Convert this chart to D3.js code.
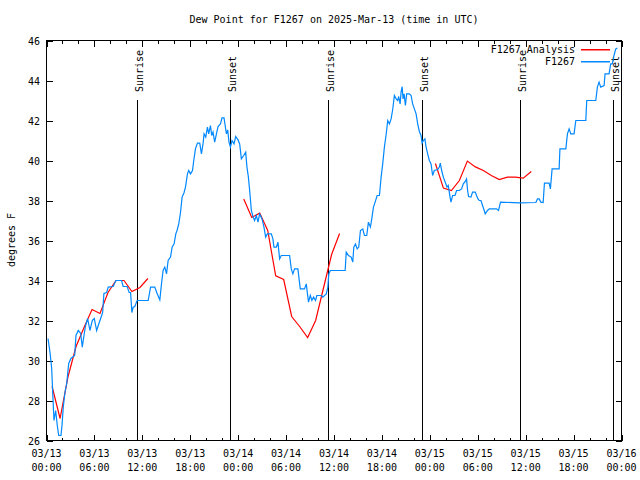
<!DOCTYPE html>
<html>
<head>
<meta charset="utf-8">
<script src="https://cdn.jsdelivr.net/npm/d3@7"></script>
<style>
  body { margin: 0; background: #fff; }
  text { font-family: "DejaVu Sans Mono", monospace; font-size: 10px; fill: #000; }
</style>
</head>
<body>
<div id="chart"></div>
<script>
// hours after 2025-03-13 00:00 UTC
const obsHours = [0.19,0.44,0.65,0.78,0.94,1.15,1.35,1.53,1.81,1.94,2.10,2.31,2.53,2.78,3.06,3.53,3.69,3.98,4.28,4.48,
  4.69,4.90,5.15,5.44,5.73,5.98,6.28,6.48,6.78,7.03,7.19,7.53,7.73,8.35,8.69,9.40,9.60,10.10,10.35,10.53,
  10.69,10.85,11.06,11.35,12.73,13.03,13.56,13.85,14.19,14.40,14.60,14.81,15.03,15.23,15.53,15.73,15.98,16.19,16.35,16.56,
  16.78,16.98,17.23,17.40,17.65,17.81,18.03,18.28,18.44,18.65,18.90,19.19,19.40,19.60,19.73,19.94,20.15,20.31,20.53,20.69,
  20.85,21.06,21.28,21.48,21.78,21.98,22.23,22.40,22.53,22.69,22.85,23.03,23.23,23.48,23.69,23.98,24.19,24.40,24.69,24.94,
  25.10,25.28,25.44,25.65,25.85,26.06,26.28,26.48,26.69,26.98,27.23,27.44,27.65,28.15,28.35,28.48,28.78,28.98,29.19,29.40,
  30.44,30.65,30.85,31.06,31.48,31.60,31.78,32.31,32.53,32.65,32.81,33.03,33.23,33.44,33.69,33.85,34.40,34.60,35.03,35.23,
  35.35,35.53,37.40,37.53,37.81,38.15,38.35,38.48,38.69,38.90,39.10,39.31,39.60,39.81,40.10,40.31,40.56,40.73,40.94,41.15,
  41.40,41.69,41.90,42.10,42.31,42.53,42.73,42.94,43.15,43.35,43.56,43.78,43.98,44.10,44.28,44.40,44.53,44.65,44.78,44.94,
  45.10,45.44,45.65,45.85,46.06,46.28,46.48,46.69,46.90,47.03,47.19,47.38,47.53,47.73,47.94,48.15,48.35,48.56,48.98,49.19,
  49.31,49.48,49.69,49.94,50.15,50.31,50.53,50.65,50.85,51.15,51.35,51.69,51.98,52.19,52.44,52.60,52.73,52.85,53.15,53.35,
  53.69,53.85,54.03,54.19,54.40,54.60,54.81,54.94,55.23,55.44,56.35,56.60,56.85,59.19,61.28,61.48,61.69,61.90,62.19,62.35,
  62.94,63.10,63.31,64.19,64.29,65.03,65.23,65.44,65.65,66.06,66.28,67.53,67.65,68.78,68.98,69.19,69.40,69.82,69.94,70.44,
  70.65,70.85,71.06,71.28,71.48];
const obsValues = [31.1,30.4,29.6,28.35,27.0,27.5,26.75,26.25,26.25,26.75,27.67,28.4,28.85,29.85,30.1,30.25,31.25,31.5,31.35,30.67,
  31.25,31.75,32.1,31.5,32.0,32.1,31.5,31.75,32.1,32.4,33.35,33.4,33.67,33.7,34.0,34.0,33.7,33.7,33.4,33.4,
  32.4,32.67,32.7,33.0,33.0,33.67,33.67,33.35,33.03,33.83,34.5,34.67,34.33,35.0,35.17,35.67,35.83,36.33,36.5,36.83,
  37.4,38.17,38.4,38.67,39.33,39.5,39.33,39.5,40.0,40.58,40.87,40.87,40.33,40.83,41.33,41.17,41.67,41.33,41.75,41.25,
  41.42,40.92,41.33,41.7,41.83,42.13,42.13,41.67,41.33,41.53,40.92,40.67,41.0,40.83,41.2,41.03,40.83,40.08,40.25,40.42,
  39.67,39.17,38.5,37.5,37.2,37.0,37.25,36.92,37.33,37.08,36.67,36.17,36.33,36.33,36.08,35.67,35.67,35.92,35.08,35.25,
  35.25,34.58,34.33,34.58,34.58,34.17,33.58,33.58,33.83,33.42,32.92,33.25,33.0,33.17,33.0,33.25,33.25,33.17,33.33,33.67,
  34.33,34.5,34.5,35.42,35.25,35.17,34.92,35.67,35.83,35.58,35.67,36.5,36.58,36.25,36.25,36.92,36.67,37.08,37.67,37.92,
  38.25,38.25,39.17,39.83,40.67,41.3,42.0,41.83,42.08,42.55,43.25,43.08,43.0,43.2,42.83,43.42,43.7,43.08,43.33,42.75,
  43.33,43.33,43.25,42.83,42.58,42.33,41.83,41.45,41.25,40.87,41.0,41.08,40.67,40.33,40.0,39.83,39.25,39.5,39.55,39.67,
  39.87,39.5,39.17,38.9,38.67,38.75,38.17,37.92,38.25,38.25,38.5,38.5,38.58,38.83,38.95,39.08,38.5,38.2,38.17,38.42,
  38.42,38.25,38.08,38.0,38.0,37.75,37.5,37.33,37.5,37.58,37.58,37.5,37.92,37.88,37.9,38.08,38.08,37.92,37.9,38.87,
  38.87,38.58,39.58,39.58,40.58,40.58,41.33,41.58,41.33,41.33,42.0,42.0,43.0,43.0,43.67,43.92,43.67,43.75,44.33,44.33,
  44.83,44.83,45.25,45.58,45.63];

// analysis, hourly values in three runs
const anaStartHours = [0.7, 24.7, 48.7];
const anaRun1 = [28.7, 27.1, 29.2, 30.7, 31.65, 32.55, 32.35, 33.4, 34.0, 34.0, 33.45, 33.65, 34.1];
const anaRun2 = [38.08, 37.15, 37.37, 36.5, 34.23, 34.05, 32.2, 31.7, 31.15, 32.0, 33.65, 35.3, 36.35];
const anaRun3 = [39.85, 38.62, 38.5, 39.0, 39.97, 39.68, 39.5, 39.25, 39.05, 39.17, 39.17, 39.12, 39.45];

const sunLabels = ["Sunrise", "Sunset", "Sunrise", "Sunset", "Sunrise", "Sunset"];
const sunHours = [11.35, 22.98, 35.23, 46.98, 59.23, 70.98];

const yTicks = [26, 28, 30, 32, 34, 36, 38, 40, 42, 44, 46];

const seriesNames = ["F1267 Analysis", "F1267"];
const seriesColors = ["#ff0000", "#0088ff"];

const t0 = Date.UTC(2025, 2, 13);
const toDate = h => new Date(t0 + h * 3600e3);

const width = 640, height = 480;
const plot = {left: 46.5, right: 621.5, top: 40.5, bottom: 440.5};

const svg = d3.select("#chart")
    .append("svg")
    .attr("width", width)
    .attr("height", height);

const x = d3.scaleUtc().domain([toDate(0), toDate(72)]).range([plot.left, plot.right]);
const y = d3.scaleLinear().domain([26, 46]).range([plot.bottom, plot.top]);

const majorTimes = d3.utcHour.every(6).range(toDate(0), toDate(72.01));
const minorTimes = d3.utcHour.every(2).range(toDate(0), toDate(72.01)).filter(d => d.getUTCHours() % 6 !== 0);

// ticks, pointing inward on all four sides
const tickAxes = [
    [d3.axisBottom, plot.bottom, majorTimes, -6],
    [d3.axisBottom, plot.bottom, minorTimes, -3],
    [d3.axisTop, plot.top, majorTimes, -6],
    [d3.axisTop, plot.top, minorTimes, -3]
];
tickAxes.forEach(([ax, pos, vals, size]) => {
    const g = svg.append("g")
        .attr("transform", `translate(0,${pos})`)
        .attr("shape-rendering", "crispEdges")
        .call(ax(x).tickValues(vals).tickSize(size).tickFormat(""));
    g.select(".domain").remove();
    g.selectAll("line").attr("stroke", "#000");
});
[[d3.axisLeft, plot.left], [d3.axisRight, plot.right]].forEach(([ax, pos]) => {
    const g = svg.append("g")
        .attr("transform", `translate(${pos},0)`)
        .attr("shape-rendering", "crispEdges")
        .call(ax(y).tickValues(yTicks).tickSize(-6).tickFormat(""));
    g.select(".domain").remove();
    g.selectAll("line").attr("stroke", "#000");
});

// frame
svg.append("rect")
    .attr("x", plot.left).attr("y", plot.top)
    .attr("width", plot.right - plot.left).attr("height", plot.bottom - plot.top)
    .attr("fill", "none").attr("stroke", "#000")
    .attr("shape-rendering", "crispEdges");

// y tick labels
svg.selectAll(".ylab")
    .data(yTicks)
    .enter().append("text")
    .attr("x", 40)
    .attr("y", d => y(d) + 4)
    .attr("text-anchor", "end")
    .text(d => d);

// x tick labels, two lines
const fmtDay = d3.utcFormat("%m/%d"), fmtTime = d3.utcFormat("%H:%M");
const xl = svg.selectAll(".xlab")
    .data(majorTimes)
    .enter().append("text")
    .attr("text-anchor", "middle");
xl.append("tspan").attr("x", d => x(d)).attr("y", 457).text(fmtDay);
xl.append("tspan").attr("x", d => x(d)).attr("y", 471).text(fmtTime);

// title and axis label
svg.append("text")
    .attr("x", (plot.left + plot.right) / 2)
    .attr("y", 23)
    .attr("text-anchor", "middle")
    .text("Dew Point for F1267 on 2025-Mar-13 (time in UTC)");

svg.append("text")
    .attr("transform", "translate(15,240) rotate(-90)")
    .attr("text-anchor", "middle")
    .text("degrees F");

// sunrise / sunset markers
sunHours.forEach((h, i) => {
    const sx = Math.round(x(toDate(h))) + 0.5;
    svg.append("line")
        .attr("x1", sx).attr("x2", sx)
        .attr("y1", 100).attr("y2", plot.bottom)
        .attr("stroke", "#000")
        .attr("shape-rendering", "crispEdges");
    svg.append("text")
        .attr("transform", `translate(${sx + 5.5},92) rotate(-90)`)
        .text(sunLabels[i]);
});

const line = d3.line()
    .x(d => x(d[0]))
    .y(d => y(d[1]));

// analysis runs
[anaRun1, anaRun2, anaRun3].forEach((run, i) => {
    svg.append("path")
        .datum(run.map((v, k) => [toDate(anaStartHours[i] + k), v]))
        .attr("fill", "none")
        .attr("stroke", seriesColors[0])
        .attr("stroke-width", 1.2)
        .attr("d", line);
});

// observations
svg.append("path")
    .datum(obsHours.map((h, k) => [toDate(h), obsValues[k]]))
    .attr("fill", "none")
    .attr("stroke", seriesColors[1])
    .attr("stroke-width", 1.2)
    .attr("d", line);

// legend
seriesNames.forEach((name, i) => {
    const ly = 49 + i * 12;
    svg.append("text")
        .attr("x", 575).attr("y", ly + 4)
        .attr("text-anchor", "end")
        .text(name);
    svg.append("rect")
        .attr("x", 581).attr("y", ly)
        .attr("width", 29).attr("height", 1.5)
        .attr("fill", seriesColors[i]);
});
</script>
</body>
</html>
